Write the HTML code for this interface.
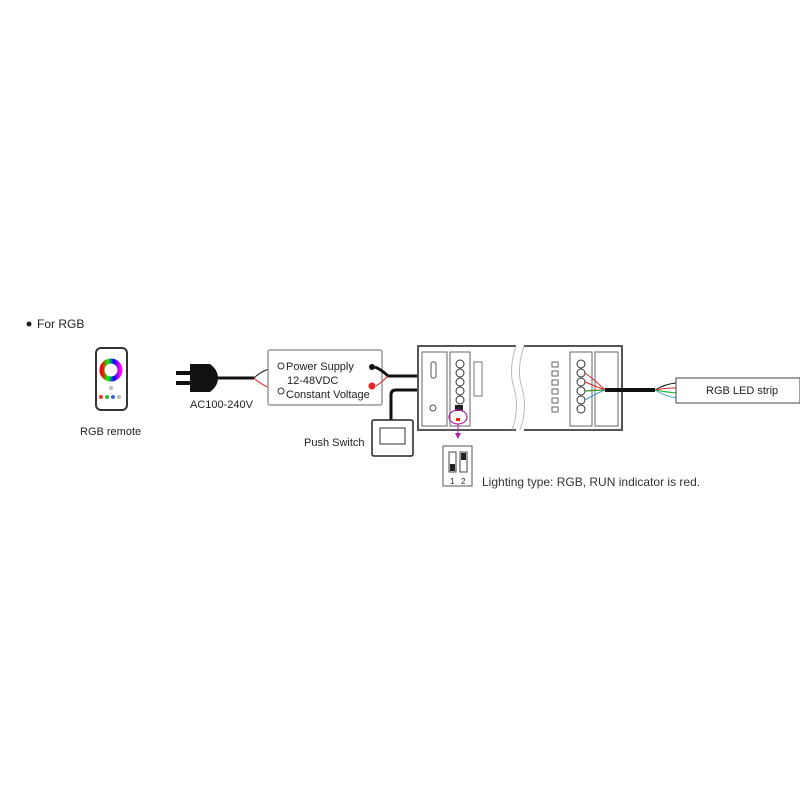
<!DOCTYPE html>
<html><head><style>body{margin:0;background:#fff}svg{display:block}text{font-family:"Liberation Sans",sans-serif}</style></head><body>
<svg width="800" height="800" viewBox="0 0 800 800" xmlns="http://www.w3.org/2000/svg">
<defs><linearGradient id="g" x1="0" x2="1"><stop offset="0" stop-color="#f00"/><stop offset=".33" stop-color="#0f0"/><stop offset=".66" stop-color="#00f"/><stop offset="1" stop-color="#f0f"/></linearGradient></defs>
<circle cx="29" cy="324" r="2.5" fill="#222"/>
<text x="37" y="328" font-size="12" fill="#222">For RGB</text>
<rect x="96" y="348" width="31" height="62" rx="5" fill="#fff" stroke="#333" stroke-width="2"/>
<circle cx="111" cy="370" r="9" fill="none" stroke="url(#g)" stroke-width="5"/>
<circle cx="101" cy="397" r="2" fill="#e33"/><circle cx="107" cy="397" r="2" fill="#3b3"/><circle cx="113" cy="397" r="2" fill="#36c"/><circle cx="119" cy="397" r="2" fill="#bbb"/>
<circle cx="111" cy="388" r="2" fill="#bbb"/>
<text x="80" y="435" font-size="11" fill="#222">RGB remote</text>
<rect x="176" y="371" width="14" height="4" fill="#111"/><rect x="176" y="381" width="14" height="4" fill="#111"/>
<path d="M190 364 h20 q8 6 8 14 q0 8 -8 14 h-20z" fill="#111"/>
<path d="M216 378 H254" stroke="#111" stroke-width="3"/>
<path d="M254 378 Q262 370 278 366" stroke="#111" fill="none"/>
<path d="M254 378 Q262 386 278 391" stroke="#d22" fill="none"/>
<text x="190" y="408" font-size="11" fill="#222">AC100-240V</text>
<rect x="268" y="350" width="114" height="55" rx="2" fill="#fff" stroke="#999" stroke-width="1.5"/>
<circle cx="281" cy="366" r="3" fill="none" stroke="#333"/><circle cx="281" cy="391" r="3" fill="none" stroke="#333"/>
<text x="286" y="370" font-size="11" fill="#222">Power Supply</text>
<text x="287" y="384" font-size="11" fill="#222">12-48VDC</text>
<text x="286" y="398" font-size="11" fill="#222">Constant Voltage</text>
<circle cx="372" cy="367" r="3" fill="#111"/><circle cx="372" cy="386" r="3.5" fill="#e22"/>
<path d="M375 367 Q382 370 388 376 H420" stroke="#111" stroke-width="3" fill="none"/>
<path d="M376 386 Q382 382 388 376" stroke="#d22" fill="none"/>
<path d="M391 422 V395 Q391 390 396 390 H420" stroke="#111" stroke-width="3" fill="none"/>
<path d="M420 376 Q440 366 458 369 M420 376 Q440 382 458 379" stroke="#d22" fill="none"/>
<path d="M420 390 Q440 384 458 386 M420 390 Q440 394 458 396" stroke="#d22" fill="none"/>
<rect x="372" y="420" width="41" height="36" rx="2" fill="#fff" stroke="#222" stroke-width="1.5"/>
<rect x="380" y="428" width="25" height="16" fill="none" stroke="#333"/>
<text x="304" y="446" font-size="11" fill="#222">Push Switch</text>
<path d="M516 346 H418 V430 H516" fill="#fff" stroke="#555" stroke-width="2"/>
<path d="M516 346 Q508 370 514 388 Q520 408 512 430" fill="none" stroke="#bbb"/>
<path d="M524 346 H622 V430 H524" fill="#fff" stroke="#555" stroke-width="2"/>
<path d="M524 346 Q516 370 522 388 Q528 408 520 430" fill="none" stroke="#bbb"/>
<rect x="422" y="352" width="25" height="74" fill="none" stroke="#666"/>
<rect x="450" y="352" width="20" height="74" fill="none" stroke="#666"/>
<circle cx="433" cy="408" r="3" fill="none" stroke="#555"/>
<rect x="431" y="362" width="5" height="16" rx="2" fill="none" stroke="#555"/>
<g fill="none" stroke="#333"><circle cx="460" cy="364" r="4"/><circle cx="460" cy="373" r="4"/><circle cx="460" cy="382" r="4"/><circle cx="460" cy="391" r="4"/><circle cx="460" cy="400" r="4"/></g>
<rect x="474" y="362" width="8" height="34" fill="none" stroke="#777"/>
<rect x="455" y="405" width="8" height="6" fill="#222"/>
<ellipse cx="458" cy="417" rx="9" ry="7" fill="none" stroke="#a2a" stroke-width="1.2"/>
<rect x="456" y="418" width="4" height="3" fill="#e22"/>
<path d="M458 424 V434" stroke="#a2a"/><path d="M455 433 L458 439 L461 433Z" fill="#a2a"/>
<rect x="570" y="352" width="22" height="74" fill="none" stroke="#666"/>
<rect x="595" y="352" width="23" height="74" fill="none" stroke="#666"/>
<g fill="none" stroke="#333"><circle cx="581" cy="364" r="4"/><circle cx="581" cy="373" r="4"/><circle cx="581" cy="382" r="4"/><circle cx="581" cy="391" r="4"/><circle cx="581" cy="400" r="4"/><circle cx="581" cy="409" r="4"/></g>
<g fill="none" stroke="#666"><rect x="552" y="362" width="6" height="5"/><rect x="552" y="371" width="6" height="5"/><rect x="552" y="380" width="6" height="5"/><rect x="552" y="389" width="6" height="5"/><rect x="552" y="398" width="6" height="5"/><rect x="552" y="407" width="6" height="5"/></g>
<path d="M585 373 Q595 380 605 390 M585 382 Q595 386 605 390 M585 391 Q595 390 605 390" fill="none" stroke="#d22"/>
<path d="M585 391 L605 390" stroke="#2a2"/><path d="M585 400 Q595 394 605 390" stroke="#39c" fill="none"/>
<path d="M605 390 H655" stroke="#111" stroke-width="4"/>
<path d="M655 390 Q665 384 676 383" stroke="#111" fill="none"/><path d="M655 390 Q665 388 676 388" stroke="#d22" fill="none"/>
<path d="M655 390 Q665 392 676 393" stroke="#2a2" fill="none"/><path d="M655 390 Q665 396 676 398" stroke="#39c" fill="none"/>
<rect x="676" y="378" width="124" height="25" fill="#fff" stroke="#444"/>
<text x="706" y="394" font-size="11" fill="#222">RGB LED strip</text>
<rect x="443" y="446" width="29" height="40" fill="#fff" stroke="#555"/>
<rect x="449" y="452" width="7" height="20" fill="#fff" stroke="#444"/><rect x="450" y="464" width="5" height="7" fill="#222"/>
<rect x="460" y="452" width="7" height="20" fill="#fff" stroke="#444"/><rect x="461" y="453" width="5" height="7" fill="#222"/>
<text x="450" y="484" font-size="8" fill="#222">1</text><text x="461" y="484" font-size="8" fill="#222">2</text>
<text x="482" y="486" font-size="12" fill="#333">Lighting type: RGB, RUN indicator is red.</text>
</svg>
</body></html>
